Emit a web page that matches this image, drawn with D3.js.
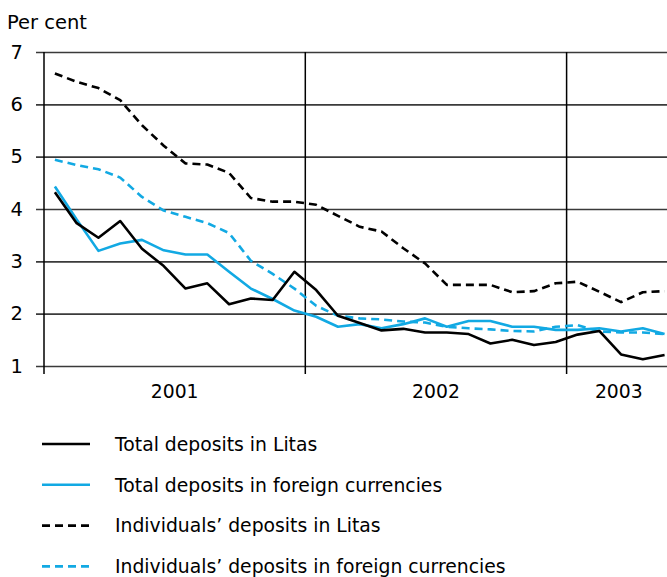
<!DOCTYPE html>
<html>
<head>
<meta charset="utf-8">
<script src="https://cdn.jsdelivr.net/npm/d3@7"></script>
<style>
  body { margin: 0; background: #fff; }
  svg { display: block; font-family: "DejaVu Sans", Verdana, sans-serif; }
</style>
</head>
<body>
<div id="chart"></div>
<script>
// monthly data, Jan 2001 .. May 2003
const years = ['2001', '2002', '2003'];
const yTicks = [1, 2, 3, 4, 5, 6, 7];
const totalLitas = [4.32, 3.73, 3.45, 3.77, 3.24, 2.91, 2.48, 2.58, 2.18, 2.29, 2.26, 2.80,
  2.45, 1.96, 1.82, 1.68, 1.71, 1.64, 1.64, 1.61, 1.43, 1.50, 1.40, 1.46,
  1.60, 1.67, 1.22, 1.13, 1.21];
const totalForeign = [4.43, 3.80, 3.20, 3.34, 3.41, 3.21, 3.13, 3.13, 2.80, 2.48, 2.28, 2.06,
  1.94, 1.75, 1.80, 1.72, 1.80, 1.91, 1.75, 1.86, 1.86, 1.75, 1.75, 1.69,
  1.69, 1.72, 1.66, 1.72, 1.61];
const indivLitas = [6.59, 6.43, 6.31, 6.08, 5.60, 5.21, 4.87, 4.85, 4.69, 4.21, 4.14, 4.14,
  4.08, 3.87, 3.66, 3.57, 3.25, 2.96, 2.55, 2.55, 2.55, 2.41, 2.43, 2.58,
  2.61, 2.42, 2.22, 2.41, 2.43];
const indivForeign = [4.94, 4.84, 4.76, 4.60, 4.23, 3.97, 3.85, 3.73, 3.54, 3.01, 2.76, 2.48,
  2.15, 1.96, 1.91, 1.89, 1.85, 1.83, 1.75, 1.72, 1.70, 1.67, 1.66, 1.75,
  1.78, 1.66, 1.64, 1.64, 1.61];

const series = [
  { name: 'Total deposits in Litas', values: totalLitas, color: '#000', dash: null },
  { name: 'Total deposits in foreign currencies', values: totalForeign, color: '#12a9e3', dash: null },
  { name: 'Individuals\u2019 deposits in Litas', values: indivLitas, color: '#000', dash: '8,5' },
  { name: 'Individuals\u2019 deposits in foreign currencies', values: indivForeign, color: '#12a9e3', dash: '8,5' }
];

const [w, h] = [667, 577];
const m = { left: 44, top: 52, bottom: 366 };

const svg = d3.select('#chart').append('svg')
  .attr('width', w).attr('height', h);

const x = d3.scaleLinear().domain([0, 12]).range([m.left, 305.3]);
const y = d3.scaleLinear().domain([1, 7]).range([m.bottom, m.top]);

// y axis with full width grid lines
const yAxis = d3.axisLeft(y).tickValues(yTicks).tickFormat(d3.format('d'))
  .tickSizeInner(-(w - 36)).tickSizeOuter(0).tickPadding(13);
const gy = svg.append('g').attr('transform', 'translate(36,0)').call(yAxis);
gy.select('.domain').remove();
gy.selectAll('.tick line').attr('stroke', '#3a3a3a').attr('stroke-width', 1.6);
gy.selectAll('.tick text').attr('font-size', 19.5).attr('fill', '#000')
  .attr('font-family', '"DejaVu Sans", Verdana, sans-serif');

// year dividers
svg.append('g').selectAll('line')
  .data(years)
  .join('line')
  .attr('x1', (d, i) => x(i * 12)).attr('x2', (d, i) => x(i * 12))
  .attr('y1', m.top).attr('y2', m.bottom + 8)
  .attr('stroke', '#000').attr('stroke-width', 1.5);

// year labels
svg.append('g').selectAll('text')
  .data(years)
  .join('text')
  .attr('x', (d, i) => i < 2 ? x(i * 12 + 6) : (x(24) + w) / 2 + 2)
  .attr('y', 398)
  .attr('text-anchor', 'middle')
  .attr('font-size', 18.8)
  .text(d => d);

// unit label
svg.append('text').attr('x', 7).attr('y', 29)
  .attr('font-size', 19.5).text('Per cent');

// lines
const line = d3.line()
  .x((d, i) => x(i + 0.5))
  .y(d => y(d));

svg.append('g').selectAll('path')
  .data(series.slice().reverse())
  .join('path')
  .attr('d', d => line(d.values))
  .attr('fill', 'none')
  .attr('stroke', d => d.color)
  .attr('stroke-width', 2.6)
  .attr('stroke-dasharray', d => d.dash)
  .attr('stroke-linejoin', 'round');

// legend
const lg = svg.append('g').selectAll('g')
  .data(series)
  .join('g')
  .attr('transform', (d, i) => `translate(0, ${444 + i * 40.8})`);
lg.append('line')
  .attr('x1', 42).attr('x2', 90).attr('y1', 0).attr('y2', 0)
  .attr('stroke', d => d.color).attr('stroke-width', 2.6)
  .attr('stroke-dasharray', d => d.dash);
lg.append('text')
  .attr('x', 115).attr('y', 6.8)
  .attr('font-size', 18.8)
  .text(d => d.name);
</script>
</body>
</html>
